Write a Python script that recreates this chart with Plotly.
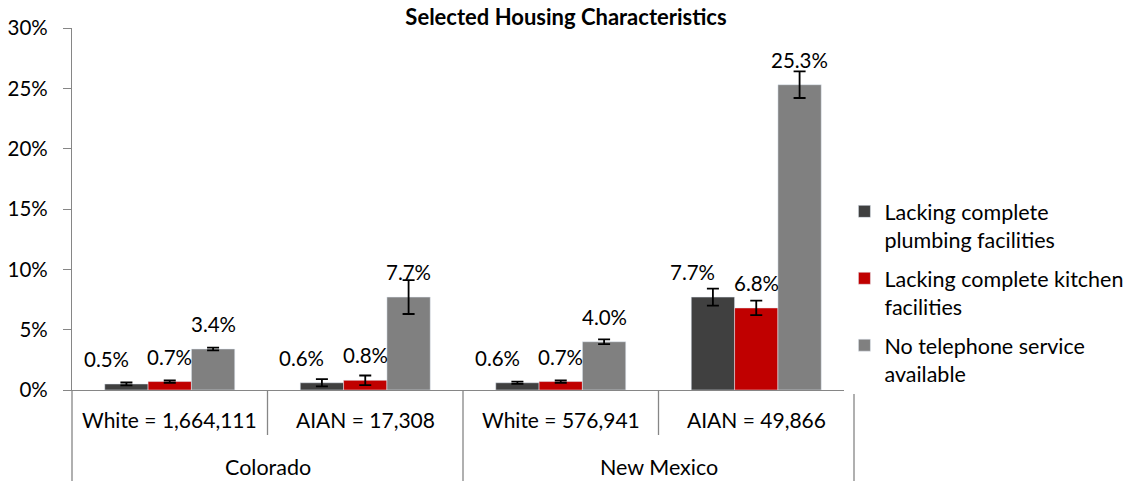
import plotly.graph_objects as go

# data
states = ["Colorado", "New Mexico"]
groups = ["White = 1,664,111", "AIAN = 17,308", "White = 576,941", "AIAN = 49,866"]
series_names = [
    "Lacking complete<br>plumbing facilities",
    "Lacking complete kitchen<br>facilities",
    "No telephone service<br>available",
]
plumbing = [0.5, 0.6, 0.6, 7.7]
kitchen = [0.7, 0.8, 0.7, 6.8]
telephone = [3.4, 7.7, 4.0, 25.3]
plumbing_err = [0.12, 0.3, 0.1, 0.7]
kitchen_err = [0.1, 0.4, 0.1, 0.6]
telephone_err = [0.12, 1.4, 0.2, 1.1]

colors = ["#404040", "#C00000", "#808080"]
values = [plumbing, kitchen, telephone]
errors = [plumbing_err, kitchen_err, telephone_err]

FONT = "Lato, sans-serif"
BARGAP = 0.335
n_series = len(values)
bar_w = (1 - BARGAP) / n_series
x_idx = list(range(len(groups)))

W, H = 1139, 481
ML, MR, MT, MB = 72, 284, 28, 91
plot_h = H - MT - MB

fig = go.Figure()
for j in range(n_series):
    fig.add_trace(go.Bar(
        name=series_names[j],
        x=x_idx,
        y=values[j],
        marker=dict(color=colors[j]),
        error_y=dict(type="data", array=errors[j], color="black", thickness=1.8, width=6),
        legendgroup=str(j),
    ))

# data labels sitting above the bars
for j in range(n_series):
    off = (j - (n_series - 1) / 2) * bar_w
    for i, v in enumerate(values[j]):
        fig.add_annotation(
            x=i + off, y=v, xref="x", yref="y",
            text=f"{v:.1f}%", showarrow=False,
            yanchor="middle", yshift=25, xshift=-20 if j == 0 else 0,
            font=dict(size=20.5, family=FONT, color="#000000"),
        )

# category labels (two levels)
for i, g in enumerate(groups):
    fig.add_annotation(
        x=i, y=-30 / plot_h, xref="x", yref="paper", text=g, showarrow=False,
        yanchor="middle", font=dict(size=21, family=FONT, color="#000000"),
    )
for k, st in enumerate(states):
    fig.add_annotation(
        x=2 * k + 0.5, y=-77 / plot_h, xref="x", yref="paper", text=st, showarrow=False,
        yanchor="middle", font=dict(size=21.5, family=FONT, color="#000000"),
    )

# divider lines below the axis
n = len(groups)
for b in range(n + 1):
    long_line = b % 2 == 0
    fig.add_shape(
        type="line", xref="paper", yref="paper",
        x0=b / n, x1=b / n, y0=0, y1=(-MB if long_line else -45) / plot_h,
        line=dict(color="#868686", width=1.3),
    )

fig.update_layout(
    width=W, height=H,
    barmode="group", bargap=BARGAP, bargroupgap=0,
    margin=dict(l=ML, r=MR, t=MT, b=MB),
    plot_bgcolor="white", paper_bgcolor="white",
    font=dict(family=FONT, color="#000000", size=20),
    title=dict(
        text="<b>Selected Housing Characteristics</b>",
        x=566 / W, xanchor="center", y=1 - 17 / H, yanchor="middle",
        font=dict(size=22, family=FONT, color="#000000"),
    ),
    legend=dict(
        x=0.9865, xanchor="left", y=0.55, yanchor="top",
        font=dict(size=21.5, family=FONT), valign="top",
        tracegroupgap=8, itemwidth=30,
    ),
    showlegend=True,
)
fig.update_xaxes(
    range=[-0.5, 3.5], showticklabels=False, showgrid=False, zeroline=False,
    showline=True, linecolor="#868686", linewidth=1.3, ticks="",
    automargin=False,
)
fig.update_yaxes(
    range=[0, 30], dtick=5, ticksuffix="%", showgrid=False, zeroline=False,
    showline=True, linecolor="#868686", linewidth=1.3,
    ticks="outside", ticklen=8, tickcolor="#868686", tickwidth=1.3,
    ticklabelstandoff=11, automargin=False,
    tickfont=dict(size=20.5, family=FONT),
)

# drop the default body margin so the figure fills the window
fig.write_html(
    "out.html",
    config={"displayModeBar": False},
    post_script="document.body.style.margin='0';",
)
